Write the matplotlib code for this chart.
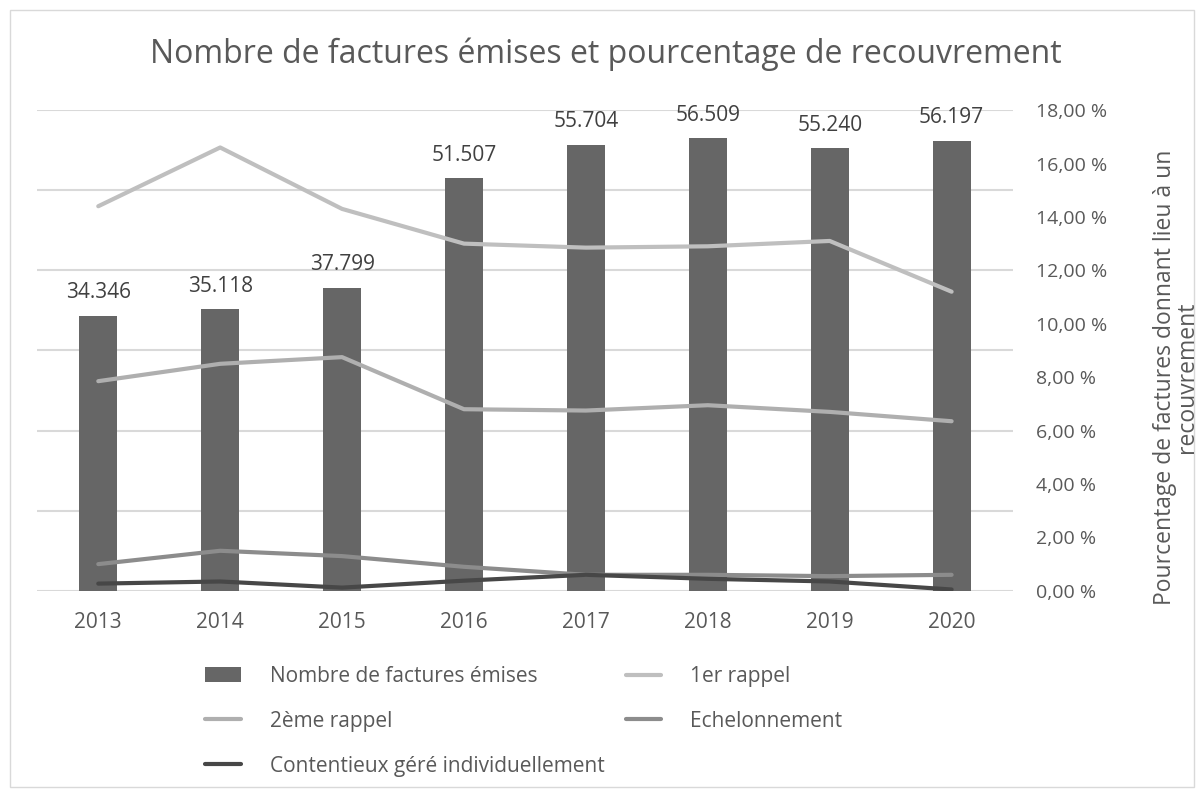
import matplotlib
matplotlib.use('Agg')
import matplotlib.pyplot as plt
import numpy as np
from matplotlib.patches import Rectangle

plt.rcParams['font.family'] = ['Open Sans', 'DejaVu Sans']

# données
years = ['2013', '2014', '2015', '2016', '2017', '2018', '2019', '2020']
factures = [34346, 35118, 37799, 51507, 55704, 56509, 55240, 56197]
rappel_1 = [14.4, 16.6, 14.3, 13.0, 12.85, 12.9, 13.1, 11.2]
rappel_2 = [7.85, 8.5, 8.75, 6.8, 6.75, 6.95, 6.7, 6.35]
echelonnement = [1.0, 1.5, 1.3, 0.9, 0.6, 0.6, 0.55, 0.6]
contentieux = [0.27, 0.35, 0.12, 0.38, 0.6, 0.45, 0.35, 0.05]

TXT = '#595959'

fig = plt.figure(figsize=(12.04, 7.92), dpi=100)
fig.patches.append(Rectangle((0.008, 0.006), 0.984, 0.982, transform=fig.transFigure,
                             fill=False, edgecolor='#d9d9d9', lw=1))
ax = fig.add_axes([0.031, 0.254, 0.810, 0.607])
ax2 = ax.twinx()

x = np.arange(len(years))
bars = ax.bar(x, factures, width=0.31, color='#666666', zorder=2,
              label='Nombre de factures émises')
for xi, v in zip(x, factures):
    ax.annotate(f'{v:,}'.replace(',', '.'), (xi, v), textcoords='offset points',
                xytext=(0, 9), ha='center', va='bottom', fontsize=15, color='#404040')

ax.set_ylim(0, 60000)
ax.set_xlim(-0.5, len(years) - 0.5)
ax.set_yticks(np.arange(0, 60001, 10000))
ax.set_yticklabels([])
ax.tick_params(axis='y', length=0)
ax.grid(axis='y', color='#d9d9d9', lw=1.5, zorder=0)
ax.set_axisbelow(True)
ax.set_xticks(x)
ax.set_xticklabels(years, fontsize=15, color=TXT)
ax.tick_params(axis='x', length=0, pad=15)
for s in ax.spines.values():
    s.set_visible(False)
for s in ax2.spines.values():
    s.set_visible(False)

l1, = ax2.plot(x, rappel_1, color='#bfbfbf', lw=3, solid_capstyle='round', label='1er rappel')
l2, = ax2.plot(x, rappel_2, color='#afafaf', lw=3, solid_capstyle='round', label='2ème rappel')
l3, = ax2.plot(x, echelonnement, color='#8c8c8c', lw=3, solid_capstyle='round', label='Echelonnement')
l4, = ax2.plot(x, contentieux, color='#474747', lw=3, solid_capstyle='round',
               label='Contentieux géré individuellement')
ax2.set_ylim(0, 18)
ax2.set_yticks(np.arange(0, 18.01, 2))
ax2.set_yticklabels([f'{v:.2f}'.replace('.', ',') + ' %' for v in np.arange(0, 18.01, 2)],
                    fontsize=14, color=TXT)
ax2.tick_params(axis='y', length=0, pad=17)

# titre de l'axe secondaire
fig.text(1176 / 1204, 1 - 377 / 792,
         'Pourcentage de factures donnant lieu à un\nrecouvrement',
         rotation=90, ha='center', va='center', fontsize=16.5, color=TXT,
         linespacing=0.9, multialignment='center')

fig.text(0.503, 0.931, 'Nombre de factures émises et pourcentage de recouvrement',
         ha='center', va='center', fontsize=23, color=TXT)

handles = [bars, l2, l4, l1, l3]
fig.legend(handles=handles, labels=[h.get_label() for h in handles], ncol=2,
           loc='upper left', bbox_to_anchor=(0.155, 0.183), frameon=False,
           fontsize=15, labelcolor=TXT, handlelength=1.7, handleheight=0.7,
           columnspacing=1.0, labelspacing=1.15, handletextpad=1.4)

fig.savefig('out.png', dpi=100)
